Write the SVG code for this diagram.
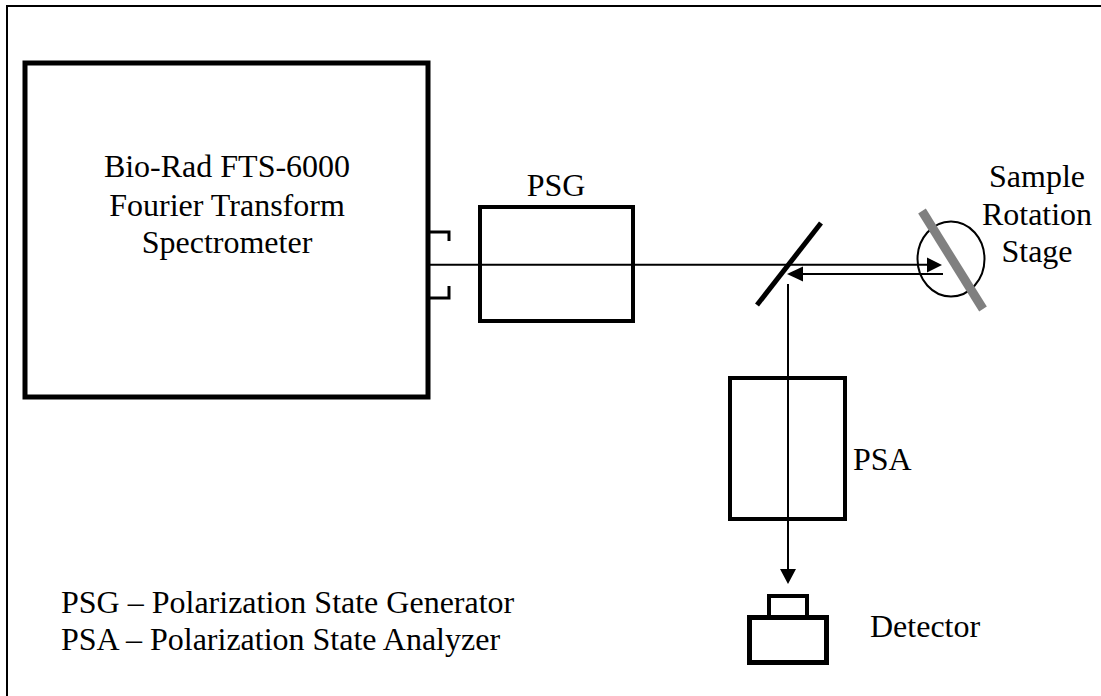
<svg xmlns="http://www.w3.org/2000/svg" width="1101" height="696" viewBox="0 0 1101 696">
<defs>
<style>
text{font-family:"Liberation Serif","Times New Roman",serif;font-size:32px;fill:#000}
.m{text-anchor:middle}
.box{fill:none;stroke:#000}
.ray{fill:none;stroke:#000;stroke-width:2}
.head{fill:#000;stroke:none}
</style>
</defs>
<rect width="1101" height="696" fill="#fff"/>
<path d="M7 696V6H1101" fill="none" stroke="#000" stroke-width="2"/>
<g id="spectrometer">
<rect class="box" x="25" y="63" width="403" height="334" stroke-width="5"/>
<text class="m" x="227" y="177">Bio-Rad FTS-6000</text>
<text class="m" x="227" y="216">Fourier Transform</text>
<text class="m" x="227" y="253">Spectrometer</text>
<path class="box" stroke-width="3" d="M430 232H449V241M430 298H449V286"/>
</g>
<g id="psg">
<rect class="box" x="480" y="207" width="153" height="114" stroke-width="4"/>
<text class="m" x="556" y="196">PSG</text>
</g>
<g id="beamsplitter">
<line x1="757" y1="305" x2="821" y2="223" stroke="#000" stroke-width="5"/>
</g>
<g id="sample">
<ellipse cx="951" cy="259" rx="33.500" ry="37.500" fill="none" stroke="#000" stroke-width="2"/>
<line x1="922" y1="211" x2="983" y2="309" stroke="#808080" stroke-width="9"/>
<text class="m" x="1037" y="187">Sample</text>
<text class="m" x="1037" y="225">Rotation</text>
<text class="m" x="1037" y="262">Stage</text>
</g>
<g id="psa">
<rect class="box" x="730" y="378" width="115" height="141" stroke-width="4"/>
<text x="853" y="470">PSA</text>
</g>
<g id="detector">
<rect class="box" x="769" y="596" width="38" height="22" stroke-width="4"/>
<rect class="box" x="749.500" y="617.500" width="77" height="45" stroke-width="5"/>
<text x="870" y="637">Detector</text>
</g>
<g id="connectors">
<line class="ray" x1="430" y1="264.700" x2="930" y2="264.700"/>
<path class="head" d="M942 265L927 257.500V272.500Z"/>
<line class="ray" x1="800" y1="274" x2="943" y2="274"/>
<path class="head" d="M787 274L803 266.500V281.500Z"/>
<line class="ray" x1="788" y1="284" x2="788" y2="572"/>
<path class="head" d="M788 584L780 569H796Z"/>
</g>
<g id="legend">
<text x="61" y="613">PSG – Polarization State Generator</text>
<text x="61" y="650">PSA – Polarization State Analyzer</text>
</g>
</svg>
